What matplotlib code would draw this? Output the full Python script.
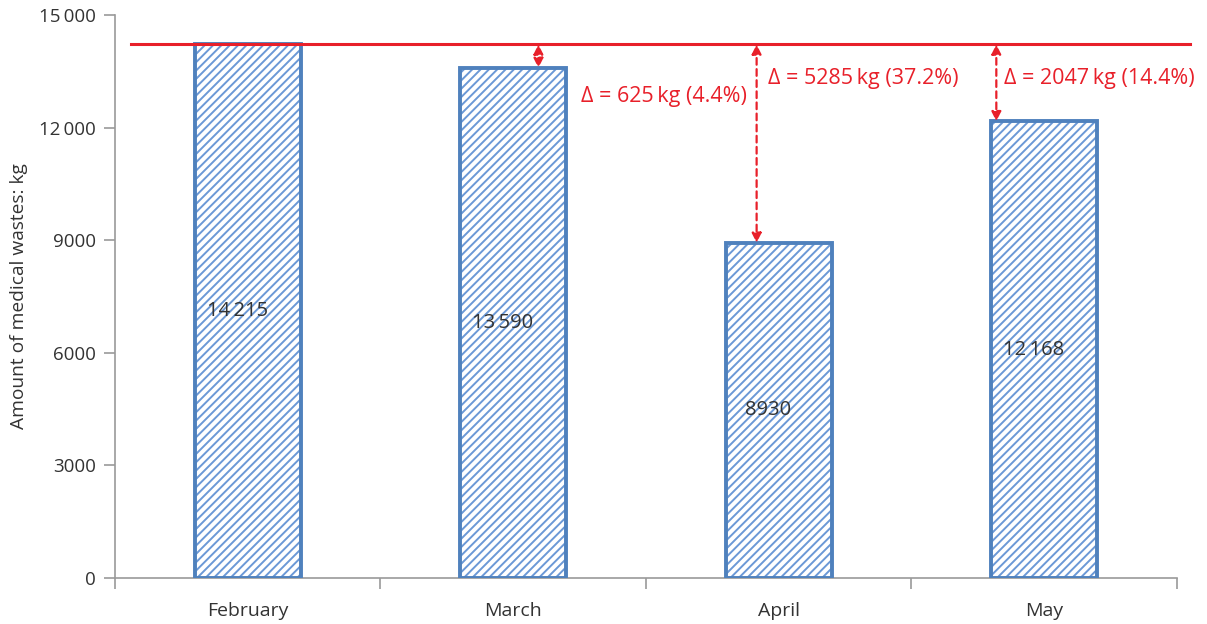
"""Monthly medical waste bars with drop from February baseline."""
import matplotlib

matplotlib.use("Agg")
import matplotlib.pyplot as plt  # noqa: E402

plt.rcParams["font.family"] = ["Open Sans", "DejaVu Sans"]
plt.rcParams["hatch.linewidth"] = 1.4

months = ["February", "March", "April", "May"]
waste_kg = [14215, 13590, 8930, 12168]
bar_labels = ["14\u2009215", "13\u2009590", "8930", "12\u2009168"]
delta_labels = [None, "\u0394 = 625\u2009kg (4.4%)", "\u0394 = 5285\u2009kg (37.2%)",
                "\u0394 = 2047\u2009kg (14.4%)"]
yticks = [0, 3000, 6000, 9000, 12000, 15000]
ytick_labels = ["0", "3000", "6000", "9000", "12\u2009000", "15\u2009000"]

BLUE = "#4f81bd"
HATCH = "#6b98d6"
RED = "#e8202a"
GRAY = "#9a9a9a"
TXT = "#333333"

fig = plt.figure(figsize=(12.07, 6.24), dpi=100)
ax = fig.add_axes([0.0953, 0.0737, 0.8797, 0.9023])

x = list(range(len(months)))
# hatch layer, then the outline on top
ax.bar(x, waste_kg, width=0.4, color="white", edgecolor=HATCH, hatch="////",
       linewidth=0, zorder=2)
ax.bar(x, waste_kg, width=0.4, color="none", edgecolor=BLUE, linewidth=2.8, zorder=3)

for xi, v, lab in zip(x, waste_kg, bar_labels):
    ax.text(xi - 0.04, v / 2, lab, ha="center", va="center", fontsize=14.5,
            color=TXT, zorder=4,
            bbox=dict(facecolor="none", edgecolor="none"))

base = waste_kg[0]
ax.plot([-0.44, 3.55], [base, base], color=RED, lw=2.2, clip_on=False, zorder=5)

# arrow x offsets relative to the bar centre, and label anchors
arrow_dx = [None, 0.095, -0.083, -0.18]
text_xy = [None, (1.255, 12816), (1.96, 13296), (2.848, 13296)]
for xi, v, dx, lab, txy in zip(x, waste_kg, arrow_dx, delta_labels, text_xy):
    if lab is None:
        continue
    ax.annotate("", xy=(xi + dx, v), xytext=(xi + dx, base),
                arrowprops=dict(arrowstyle="<|-|>", color=RED, lw=1.6,
                                ls=(0, (3, 2)), mutation_scale=14,
                                shrinkA=0, shrinkB=0), zorder=5)
    ax.text(txy[0], txy[1], lab, color=RED, fontsize=15.5, ha="left", va="center")

ax.set_xlim(-0.5, 3.5)
ax.set_ylim(0, 15000)
ax.set_yticks(yticks)
ax.set_yticklabels(ytick_labels, fontsize=13.5, color=TXT)
ax.set_xticks(x)
ax.set_xticklabels(months, fontsize=14, color=TXT)
ax.set_xticks([-0.5, 0.5, 1.5, 2.5, 3.5], minor=True)
ax.tick_params(axis="x", which="major", length=0, pad=17)
ax.tick_params(axis="x", which="minor", length=8, color=GRAY, width=1.2)
ax.tick_params(axis="y", length=8, color=GRAY, width=1.2, pad=6)
ax.set_ylabel("Amount of medical wastes: kg", fontsize=13.8, color=TXT, labelpad=8)

for s in ("top", "right"):
    ax.spines[s].set_visible(False)
for s in ("left", "bottom"):
    ax.spines[s].set_color(GRAY)
    ax.spines[s].set_linewidth(1.2)

fig.savefig("out.png", dpi=100)
